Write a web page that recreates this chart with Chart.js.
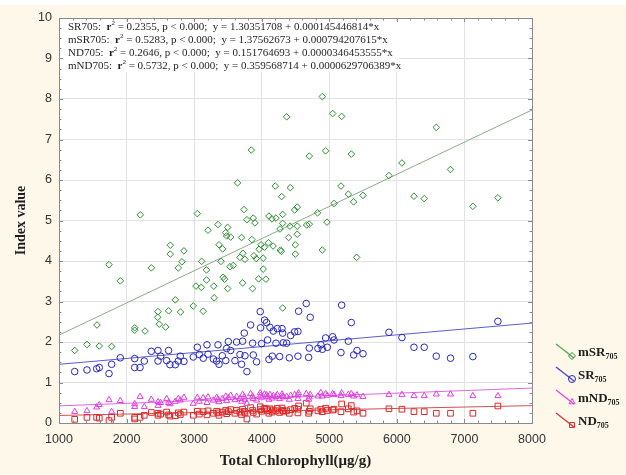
<!DOCTYPE html>
<html>
<head>
<meta charset="utf-8">
<script src="https://cdn.jsdelivr.net/npm/chart.js@4.4.0/dist/chart.umd.min.js"></script>
<style>
  html, body { margin: 0; padding: 0; background: #fdf8ea; }
</style>
</head>
<body>
<canvas id="chart" width="626" height="475"></canvas>
<script>
// mSR705 samples
const msrX = [1232, 1414, 1562, 1596, 1740, 1779, 1907, 2120, 2120, 2203, 2273, 2366, 2460, 2465, 2484, 2578, 2622, 2647, 2647, 2721,
    2765, 2799, 2819, 2849, 2987, 3027, 3047, 3106, 3111, 3134, 3183, 3183, 3205, 3291, 3296, 3353, 3368, 3397, 3422, 3429,
    3450, 3467, 3481, 3496, 3496, 3530, 3540, 3579, 3643, 3678, 3702, 3717, 3722, 3737, 3752, 3781, 3845, 3855, 3865, 3875,
    3885, 3900, 3919, 3954, 3961, 3990, 4022, 4022, 4040, 4062, 4099, 4107, 4152, 4168, 4201, 4211, 4270, 4277, 4290, 4295,
    4310, 4310, 4310, 4369, 4398, 4418, 4423, 4487, 4497, 4497, 4526, 4526, 4526, 4665, 4704, 4704, 4827, 4897, 4897, 4946,
    4966, 5050, 5070, 5173, 5183, 5282, 5326, 5361, 5405, 5499, 5883, 6075, 6253, 6405, 6583, 6794, 7125, 7495];
const msrY = [1.79, 1.94, 2.42, 1.90, 3.91, 1.89, 3.51, 2.35, 2.29, 5.14, 2.27, 3.83, 2.61, 2.75, 2.44, 2.37, 2.77, 4.39, 4.17, 3.04,
    3.83, 2.74, 3.98, 4.25, 2.89, 3.38, 5.17, 3.35, 3.99, 2.76, 3.78, 3.53, 4.76, 3.38, 3.09, 4.90, 4.40, 3.99, 4.30, 3.60,
    3.55, 4.70, 4.62, 4.83, 3.32, 3.86, 4.59, 3.89, 5.93, 4.09, 4.58, 3.46, 4.19, 5.27, 4.04, 5.02, 6.74, 4.53, 3.32, 5.06,
    4.13, 4.94, 4.06, 3.56, 4.29, 4.40, 4.07, 3.80, 4.34, 3.55, 4.45, 5.11, 5.04, 4.37, 5.85, 5.06, 4.79, 4.27, 4.24, 5.59,
    5.15, 4.93, 2.84, 7.56, 4.58, 4.86, 5.81, 5.26, 4.40, 4.17, 5.33, 4.86, 4.66, 4.89, 4.91, 6.59, 5.19, 8.06, 4.27, 6.72,
    4.96, 7.64, 5.42, 5.85, 7.57, 5.65, 6.64, 5.46, 4.09, 5.62, 6.11, 6.42, 5.60, 5.54, 7.30, 6.26, 5.35, 5.56];

// SR705, mND705 and ND705 samples share these x values
const srX = [1232, 1414, 1557, 1596, 1740, 1779, 1907, 2120, 2120, 2199, 2262, 2366, 2465, 2465, 2504, 2593, 2622, 2642, 2721, 2765,
    2795, 2849, 2987, 3047, 3076, 3135, 3190, 3205, 3284, 3333, 3353, 3368, 3417, 3467, 3481, 3506, 3540, 3604, 3628, 3678,
    3702, 3717, 3742, 3752, 3781, 3835, 3865, 3875, 3924, 3978, 3983, 3998, 4042, 4072, 4087, 4107, 4122, 4156, 4171, 4211,
    4231, 4265, 4300, 4310, 4319, 4369, 4408, 4428, 4487, 4536, 4536, 4546, 4659, 4694, 4704, 4718, 4832, 4876, 4897, 4946,
    4971, 5050, 5070, 5173, 5183, 5282, 5326, 5361, 5410, 5499, 5883, 6075, 6253, 6405, 6583, 6794, 7125, 7495];
const srY = [1.27, 1.31, 1.34, 1.37, 1.22, 1.45, 1.61, 1.59, 1.37, 1.37, 1.53, 1.77, 1.79, 1.53, 1.65, 1.54, 1.79, 1.44, 1.44, 1.53,
    1.65, 1.52, 1.63, 1.87, 1.69, 1.60, 1.93, 1.70, 1.58, 1.53, 1.93, 1.45, 1.66, 1.54, 1.84, 2.01, 1.79, 1.54, 2.00, 1.69,
    1.45, 2.02, 2.22, 1.66, 1.27, 2.42, 1.97, 1.68, 1.51, 2.75, 2.35, 1.96, 2.54, 2.48, 2.05, 1.57, 2.36, 1.65, 2.27, 1.97,
    2.33, 1.64, 2.33, 2.22, 1.98, 1.97, 1.61, 2.16, 2.25, 2.26, 1.65, 2.76, 2.95, 1.62, 1.85, 2.61, 1.84, 1.93, 1.82, 2.10,
    1.87, 2.13, 2.05, 1.74, 2.91, 2.02, 2.48, 1.68, 1.79, 1.71, 2.24, 2.11, 1.87, 1.87, 1.65, 1.60, 1.64, 2.51];
const mndY = [0.28, 0.30, 0.39, 0.45, 0.57, 0.28, 0.55, 0.40, 0.47, 0.65, 0.40, 0.58, 0.43, 0.52, 0.50, 0.60, 0.50, 0.47, 0.53, 0.60,
    0.56, 0.63, 0.48, 0.63, 0.53, 0.62, 0.50, 0.64, 0.56, 0.63, 0.58, 0.52, 0.60, 0.66, 0.55, 0.62, 0.68, 0.57, 0.65, 0.60,
    0.53, 0.70, 0.64, 0.58, 0.48, 0.72, 0.66, 0.60, 0.56, 0.74, 0.68, 0.63, 0.71, 0.69, 0.64, 0.58, 0.70, 0.61, 0.67, 0.65,
    0.70, 0.60, 0.71, 0.66, 0.64, 0.65, 0.58, 0.68, 0.70, 0.69, 0.60, 0.74, 0.72, 0.58, 0.64, 0.70, 0.66, 0.75, 0.66, 0.72,
    0.68, 0.72, 0.70, 0.67, 0.74, 0.70, 0.72, 0.66, 0.69, 0.65, 0.70, 0.70, 0.67, 0.67, 0.71, 0.71, 0.67, 0.67];
const ndY = [0.09, 0.14, 0.14, 0.12, 0.06, 0.14, 0.24, 0.14, 0.10, 0.14, 0.19, 0.26, 0.19, 0.24, 0.22, 0.27, 0.20, 0.17, 0.18, 0.25,
    0.21, 0.27, 0.19, 0.29, 0.22, 0.28, 0.20, 0.30, 0.24, 0.29, 0.25, 0.19, 0.27, 0.31, 0.23, 0.28, 0.33, 0.24, 0.31, 0.27,
    0.21, 0.34, 0.29, 0.25, 0.10, 0.38, 0.31, 0.26, 0.22, 0.40, 0.33, 0.29, 0.36, 0.34, 0.30, 0.24, 0.35, 0.27, 0.32, 0.30,
    0.36, 0.26, 0.37, 0.31, 0.29, 0.30, 0.24, 0.33, 0.36, 0.34, 0.25, 0.42, 0.49, 0.24, 0.29, 0.35, 0.30, 0.34, 0.28, 0.36,
    0.31, 0.32, 0.34, 0.28, 0.47, 0.35, 0.43, 0.27, 0.30, 0.24, 0.35, 0.34, 0.28, 0.28, 0.24, 0.24, 0.24, 0.42];

// fit statistics as printed in the chart: SR705, mSR705, ND705, mND705
const fitNames = ['SR705', 'mSR705', 'ND705', 'mND705'];
const fitR2 = ['0.2355', '0.5283', '0.2646', '0.5732'];
const fitIntercept = ['1.30351708', '1.37562673', '0.151764693', '0.359568714'];
const fitSlope = ['0.000145446814', '0.000794207615', '0.0000346453555', '0.0000629706389'];

const xTicks = [1000, 2000, 3000, 4000, 5000, 6000, 7000, 8000];
const yTicks = [0, 1, 2, 3, 4, 5, 6, 7, 8, 9, 10];

const GREEN = '#2e8f32', BLUE = '#2626c4', MAGENTA = '#e23ee2', RED = '#e02828';

function pts(xs, ys) {
    return xs.map((x, i) => ({ x: x, y: ys[i] }));
}

function fitLine(i) {
    const a = Number(fitIntercept[i]), b = Number(fitSlope[i]);
    return [xTicks[0], xTicks[xTicks.length - 1]].map(x => ({ x: x, y: a + b * x }));
}

function scatterSet(label, data, style, color, radius) {
    return {
        type: 'scatter', label, data,
        pointStyle: style, pointRadius: radius, pointBorderWidth: 1,
        borderColor: color, backgroundColor: 'rgba(0,0,0,0)',
        pointBorderColor: color, pointBackgroundColor: 'rgba(0,0,0,0)'
    };
}

function lineSet(label, data, color) {
    return {
        type: 'line', label, data, borderColor: color, borderWidth: 1,
        pointRadius: 0, fill: false, tension: 0
    };
}

// backgrounds, frame, minor ticks, equations and the legend
const decorPlugin = {
    id: 'decor',
    beforeDraw(chart) {
        const { ctx, chartArea: a } = chart;
        ctx.save();
        ctx.fillStyle = '#fdf8ea';
        ctx.fillRect(0, 0, chart.width, chart.height);
        ctx.fillStyle = '#ffffff';
        ctx.fillRect(0, 0, chart.width, 5);
        ctx.fillRect(a.left, a.top, a.right - a.left, a.bottom - a.top);
        ctx.restore();
    },
    afterDraw(chart) {
        const { ctx, chartArea: a, scales } = chart;
        ctx.save();

        // regression equations, on an opaque box
        ctx.fillStyle = '#ffffff';
        ctx.fillRect(a.left + 4, 21, 336, 51);
        ctx.fillStyle = '#1e1e1e';
        ctx.textBaseline = 'middle';
        const base = '11px "Liberation Serif"';
        fitNames.forEach((name, i) => {
            let x = a.left + 9;
            const y = 27 + i * 13;
            const parts = [
                [name + ':  ', base, 0],
                ['r', 'bold ' + base, 0],
                ['2', '7px "Liberation Serif"', -3.5],
                [' = ' + fitR2[i] + ', p < 0.000;  y = ' + fitIntercept[i] + ' + ' + fitSlope[i] + '*x', base, 0]
            ];
            parts.forEach(([t, f, dy]) => {
                ctx.font = f;
                ctx.fillText(t, x, y + dy);
                x += ctx.measureText(t).width;
            });
        });

        ctx.strokeStyle = '#8a8a8a';
        ctx.lineWidth = 1;
        ctx.strokeRect(a.left + 0.5, a.top + 0.5, a.right - a.left, a.bottom - a.top);

        ctx.beginPath();
        for (let v = 1000; v <= 8000; v += 200) {
            const px = Math.round(scales.x.getPixelForValue(v)) + 0.5;
            const len = v % 1000 === 0 ? 4 : 2.5;
            ctx.moveTo(px, a.bottom); ctx.lineTo(px, a.bottom - len);
            ctx.moveTo(px, a.top); ctx.lineTo(px, a.top + len);
        }
        for (let v = 0; v <= 10.001; v += 0.25) {
            const py = Math.round(scales.y.getPixelForValue(v)) + 0.5;
            const len = Math.abs(v - Math.round(v)) < 0.01 ? 4 : 2.5;
            ctx.moveTo(a.left, py); ctx.lineTo(a.left + len, py);
            ctx.moveTo(a.right, py); ctx.lineTo(a.right - len, py);
        }
        ctx.stroke();

        // legend
        const legend = [
            ['mSR', 'rectRot', GREEN, '#5ea95e'],
            ['SR', 'circle', BLUE, '#4a4ad0'],
            ['mND', 'triangle', MAGENTA, '#e050e0'],
            ['ND', 'rect', RED, '#d04040']
        ];
        legend.forEach(([name, style, color, lineColor], i) => {
            const my = 356 + i * 23;
            const mx = 572;
            ctx.strokeStyle = lineColor;
            ctx.lineWidth = 1.5;
            ctx.beginPath();
            ctx.moveTo(mx - 16, my - 12);
            ctx.lineTo(mx + 2, my + 2);
            ctx.stroke();
            ctx.lineWidth = 1;
            ctx.strokeStyle = color;
            ctx.fillStyle = 'rgba(0,0,0,0)';
            Chart.helpers.drawPoint(ctx, { pointStyle: style, radius: 3.5, borderWidth: 1, rotation: 0 }, mx, my);
            ctx.fillStyle = '#1e1e1e';
            ctx.textBaseline = 'alphabetic';
            ctx.font = 'bold 13px "Liberation Serif"';
            ctx.fillText(name, 578, my);
            const w = ctx.measureText(name).width;
            ctx.font = 'bold 8px "Liberation Serif"';
            ctx.fillText('705', 578 + w, my + 3);
        });
        ctx.restore();
    }
};

const tickFont = { family: '"Liberation Sans", Arial, sans-serif', size: 12.5 };
const titleFont = { family: '"Liberation Serif", "Times New Roman", serif', size: 15, weight: 'bold' };

new Chart(document.getElementById('chart'), {
    data: {
        datasets: [
            scatterSet('mSR705', pts(msrX, msrY), 'rectRot', GREEN, 3.3),
            scatterSet('SR705', pts(srX, srY), 'circle', BLUE, 3.3),
            scatterSet('mND705', pts(srX, mndY), 'triangle', MAGENTA, 3.5),
            scatterSet('ND705', pts(srX, ndY), 'rect', RED, 4),
            lineSet('mSR705 fit', fitLine(1), '#88ad88'),
            lineSet('SR705 fit', fitLine(0), '#5c5cd0'),
            lineSet('mND705 fit', fitLine(3), '#e068e0'),
            lineSet('ND705 fit', fitLine(2), '#d45050')
        ]
    },
    options: {
        responsive: false,
        animation: false,
        layout: { padding: { top: 18, right: 94, left: 0, bottom: 0 } },
        plugins: { legend: { display: false }, tooltip: { enabled: false } },
        scales: {
            x: {
                type: 'linear', min: 1000, max: 8000,
                afterBuildTicks: s => { s.ticks = xTicks.map(v => ({ value: v })); },
                afterFit: s => { s.height = 52; },
                ticks: { padding: 9, color: '#333', font: tickFont, maxRotation: 0, callback: v => String(v) },
                grid: { color: '#e2e2e2', drawTicks: false },
                border: { display: false },
                title: { display: true, text: 'Total Chlorophyll(μg/g)', color: '#1e1e1e', font: titleFont, padding: { top: 0, bottom: 5 } }
            },
            y: {
                type: 'linear', min: 0, max: 10,
                afterBuildTicks: s => { s.ticks = yTicks.map(v => ({ value: v })); },
                afterFit: s => { s.width = 59; },
                ticks: { padding: 7, color: '#333', font: tickFont, callback: v => String(v) },
                grid: { color: '#e2e2e2', drawTicks: false },
                border: { display: false },
                title: { display: true, text: 'Index value', color: '#1e1e1e', font: Object.assign({}, titleFont, { size: 14 }), padding: { top: 13, bottom: 0 } }
            }
        }
    },
    plugins: [decorPlugin]
});
</script>
</body>
</html>
